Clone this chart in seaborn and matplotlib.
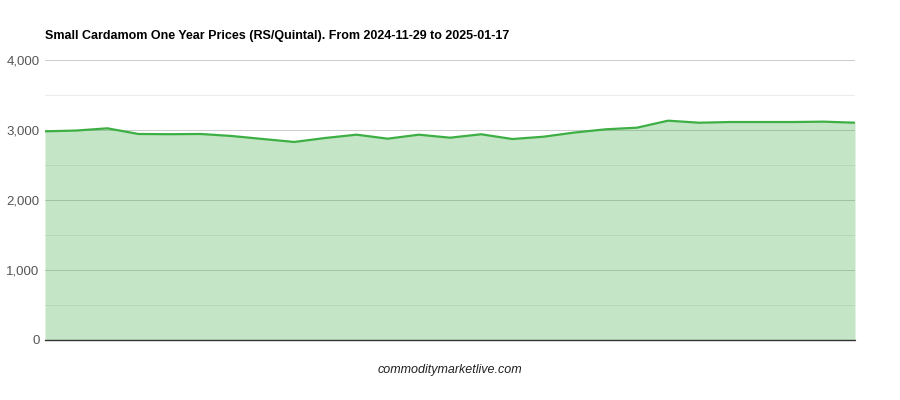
import matplotlib
matplotlib.use("Agg")
import matplotlib.pyplot as plt
import seaborn as sns
import pandas as pd

title = "Small Cardamom One Year Prices (RS/Quintal). From 2024-11-29 to 2025-01-17"
footer = "commoditymarketlive.com"
prices = [2981, 2992, 3024, 2943, 2940, 2943, 2914, 2871, 2829, 2886, 2933, 2876,
          2933, 2890, 2939, 2871, 2904, 2964, 3010, 3033, 3133, 3104, 3114, 3114,
          3114, 3119, 3104]
index = list(range(len(prices)))
y_ticks = [0, 1000, 2000, 3000, 4000]
y_tick_labels = ["0", "1,000", "2,000", "3,000", "4,000"]
minor_ticks = [500, 1500, 2500, 3500]

line_color = "#3daf44"

sns.set_theme(style="white")
plt.rcParams["font.family"] = ["Liberation Sans", "DejaVu Sans"]

df = pd.DataFrame({"idx": index, "price": prices})

fig = plt.figure(figsize=(9, 4), dpi=100)
ax = fig.add_axes([0.05, 0.15, 0.90, 0.70])

for t in minor_ticks:
    ax.axhline(t, color="#ebebeb", lw=0.75, zorder=0)
for t in y_ticks[1:]:
    ax.axhline(t, color="#cccccc", lw=0.75, zorder=0)

ax.fill_between(df["idx"], df["price"], 0, color=line_color, alpha=0.3, lw=0, zorder=1)
sns.lineplot(data=df, x="idx", y="price", ax=ax, color=line_color, lw=1.6, zorder=3)
ax.axhline(0, color="#333333", lw=1, zorder=5, clip_on=False)

ax.set_xlim(index[0], index[-1])
ax.set_ylim(0, 4000)
ax.set_yticks(y_ticks)
ax.set_yticklabels(y_tick_labels, color="#555555", fontsize=9.5)
ax.set_xticks([])
ax.set_xlabel("")
ax.set_ylabel("")
ax.tick_params(axis="y", length=0, pad=4)
for s in ax.spines.values():
    s.set_visible(False)

fig.text(0.05, 0.91, title, fontsize=9, fontweight="bold", color="#000000", va="center", ha="left")
fig.text(0.5, 0.075, footer, fontsize=9, style="italic", color="#222222", va="center", ha="center")

fig.savefig("out.png", dpi=100)
